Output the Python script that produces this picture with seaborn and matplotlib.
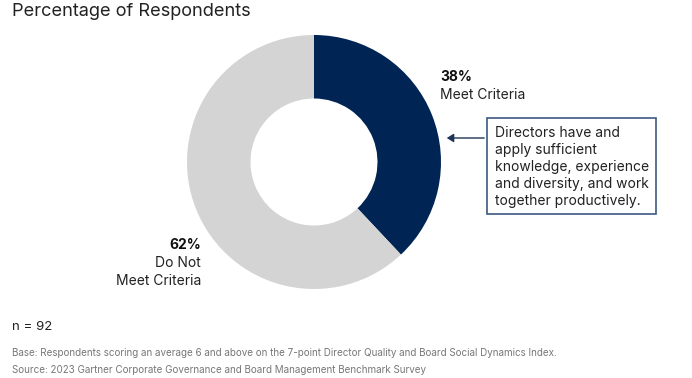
import matplotlib
matplotlib.use("Agg")
import matplotlib.pyplot as plt
import seaborn as sns
from matplotlib.patches import FancyArrowPatch, Rectangle

sns.set_theme(style="white")
plt.rcParams['font.family'] = ['Inter', 'DejaVu Sans']

# Data
categories = ["Meet Criteria", "Do Not Meet Criteria"]
values = [38, 62]
colors = ["#002554", "#d4d4d4"]
title = "Percentage of Respondents"
callout = "Directors have and\napply sufficient\nknowledge, experience\nand diversity, and work\ntogether productively."
n_text = "n = 92"
base_text = "Base: Respondents scoring an average 6 and above on the 7-point Director Quality and Board Social Dynamics Index."
source_text = "Source: 2023 Gartner Corporate Governance and Board Management Benchmark Survey"

W, H = 692, 378
fig = plt.figure(figsize=(W / 100, H / 100), dpi=100)

# donut axes (pixel coords)
cx, cy, r = 314, 162, 127
ax = fig.add_axes([(cx - r) / W, (H - cy - r) / H, 2 * r / W, 2 * r / H])
ax.pie(values, colors=colors, startangle=90, counterclock=False,
       wedgeprops=dict(width=0.5, edgecolor="white", linewidth=0))
ax.set_xlim(-1, 1)
ax.set_ylim(-1, 1)
ax.set_aspect("equal")
ax.axis("off")

def fx(x):
    return x / W

def fy(y):
    return 1 - y / H

LM = 12
fig.text(fx(LM), fy(12), title, fontsize=13.1, color="#222222", va="center", ha="left")

fig.text(fx(440), fy(77), f"{values[0]}%", fontsize=10, fontweight="bold", color="#111111", va="center")
fig.text(fx(440), fy(95), categories[0], fontsize=10, color="#222222", va="center")

fig.text(fx(201), fy(245), f"{values[1]}%", fontsize=10, fontweight="bold", color="#111111", va="center", ha="right")
fig.text(fx(201), fy(272), "Do Not\nMeet Criteria", fontsize=10, color="#222222", va="center", ha="right",
         linespacing=1.45, multialignment="right")

# callout box
bx0, by0, bx1, by1 = 487, 118, 656, 214
rect = Rectangle((fx(bx0), fy(by1)), fx(bx1 - bx0), (by1 - by0) / H,
                 transform=fig.transFigure, fill=False, edgecolor="#3d5a80", linewidth=1.2)
fig.add_artist(rect)
fig.text(fx(bx0 + 8), fy(167), callout, fontsize=10, color="#222222", va="center", ha="left", linespacing=1.28)
fig.add_artist(FancyArrowPatch((fx(bx0), fy(138)), (fx(444), fy(138)),
               transform=fig.transFigure, arrowstyle="-|>,head_length=4,head_width=2.5",
               color="#1f3556", linewidth=1.0))

fig.text(fx(LM), fy(327), n_text, fontsize=9.5, color="#222222", va="center")
fig.text(fx(LM), fy(353), base_text, fontsize=7.1, color="#777777", va="center")
fig.text(fx(LM), fy(370), source_text, fontsize=7.1, color="#777777", va="center")

fig.savefig("out.png", dpi=100, facecolor="white")
